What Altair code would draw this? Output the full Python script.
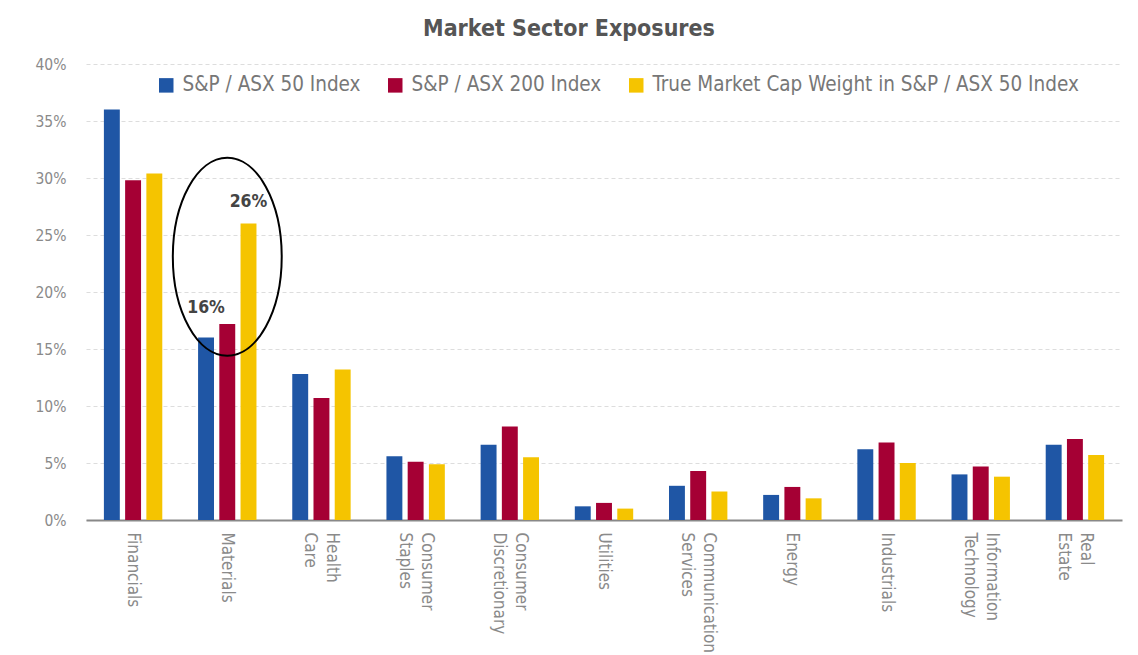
import altair as alt
import pandas as pd

sectors = ["Financials", "Materials", "Health Care", "Consumer Staples",
           "Consumer Discretionary", "Utilities", "Communication Services",
           "Energy", "Industrials", "Information Technology", "Real Estate"]
series = ["S&P / ASX 50 Index", "S&P / ASX 200 Index",
          "True Market Cap Weight in S&P / ASX 50 Index"]
asx50 = [36.0, 16.0, 12.8, 5.6, 6.6, 1.2, 3.0, 2.2, 6.2, 4.0, 6.6]
asx200 = [29.8, 17.2, 10.7, 5.1, 8.2, 1.5, 4.3, 2.9, 6.8, 4.7, 7.1]
true_cap = [30.4, 26.0, 13.2, 4.9, 5.5, 1.0, 2.5, 1.9, 5.0, 3.8, 5.7]
colors = ["#1f56a5", "#a50034", "#f5c400"]

ann_sector = ["Materials", "Materials"]
ann_series = [series[0], series[2]]
ann_text = ["16%", "26%"]
ann_y = [18.6, 27.9]

ellipse_sector = ["Materials"]
ellipse_y = [23.1]

rows = []
for s, vals in zip(series, [asx50, asx200, true_cap]):
    for sec, v in zip(sectors, vals):
        rows.append({"sector": sec, "series": s, "value": v / 100})
df = pd.DataFrame(rows)

ann_df = pd.DataFrame({"sector": ann_sector, "series": ann_series,
                       "text": ann_text, "y": [v / 100 for v in ann_y]})
ell_df = pd.DataFrame({"sector": ellipse_sector, "y": [v / 100 for v in ellipse_y]})

FONT = "DejaVu Sans Condensed, sans-serif"

x_enc = alt.X("sector:N", sort=sectors, title=None,
              scale=alt.Scale(paddingInner=0.38, paddingOuter=0.19),
              axis=alt.Axis(labelAngle=90, labelAlign="left", labelBaseline="middle",
                            labelPadding=12, ticks=False, domainColor="#888888",
                            domainWidth=2, labelFont=FONT, labelFontSize=17,
                            labelColor="#8a8a8a", labelLineHeight=22,
                            labelOffset={"condition": {"test": "indexof(datum.label, ' ') > 0",
                                                       "value": 11}, "value": 0},
                            labelExpr="split(datum.label, ' ')", grid=False))
xo_enc = alt.XOffset("series:N", sort=series,
                     scale=alt.Scale(paddingInner=0.25, paddingOuter=0))
y_scale = alt.Scale(domain=[0, 0.4])

bars = alt.Chart(df).mark_bar().encode(
    x=x_enc,
    xOffset=xo_enc,
    y=alt.Y("value:Q", scale=y_scale, title=None,
            axis=alt.Axis(format=".0%", values=[i * 0.05 for i in range(9)],
                          gridDash=[4, 3], gridColor="#dddddd", domain=False,
                          ticks=False, labelPadding=20, labelFont=FONT,
                          labelFontSize=15.5, labelColor="#8a8a8a")),
    color=alt.Color("series:N", sort=series,
                    scale=alt.Scale(domain=series, range=colors),
                    legend=alt.Legend(title=None, orient="none", direction="horizontal",
                                      legendX=70, legendY=11, symbolType="square",
                                      symbolSize=210, symbolStrokeWidth=0,
                                      labelFont=FONT, labelFontSize=20.5, labelLimit=0,
                                      labelColor="#777777", columnPadding=24,
                                      labelOffset=6, padding=0)),
)

ann = alt.Chart(ann_df).mark_text(font=FONT, fontSize=17.5, fontWeight="bold",
                                  color="#444444", baseline="middle").encode(
    x=alt.X("sector:N", sort=sectors),
    xOffset=alt.XOffset("series:N", sort=series),
    y=alt.Y("y:Q", scale=y_scale),
    text="text:N",
)

ell_path = ("M0,-1 C0.3038,-1 0.55,-0.5523 0.55,0 C0.55,0.5523 0.3038,1 0,1 "
            "C-0.3038,1 -0.55,0.5523 -0.55,0 C-0.55,-0.5523 -0.3038,-1 0,-1 Z")
ell = alt.Chart(ell_df).mark_point(shape=ell_path, size=39204, filled=False,
                                   stroke="black", strokeWidth=2, opacity=1).encode(
    x=alt.X("sector:N", sort=sectors),
    y=alt.Y("y:Q", scale=y_scale),
)

chart = alt.layer(bars, ann, ell).resolve_scale(xOffset="shared").properties(
    width=1036, height=456, autosize="none",
    padding={"left": 86, "top": 64, "right": 16, "bottom": 135},
    title=alt.TitleParams("Market Sector Exposures", font=FONT, fontSize=23,
                          fontWeight="bold", color="#555555", anchor="middle",
                          offset=16, dx=-35),
).configure_view(stroke=None)

chart.save("out.html", embed_options={"renderer": "svg", "actions": False})
